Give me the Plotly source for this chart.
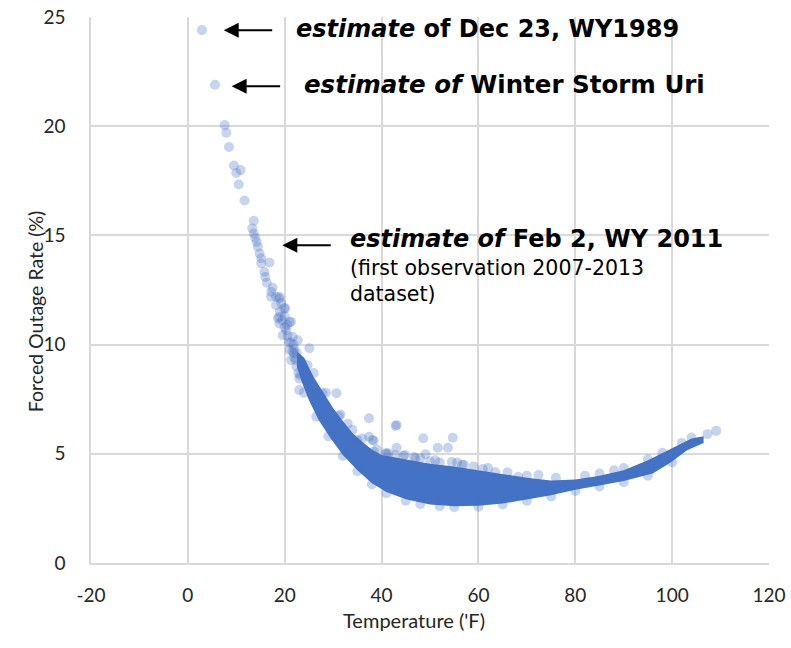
import plotly.graph_objects as go

# ---- data ----
# individual (visible) observations: temperature (F), forced outage rate (%)
pts_temp = [2.9, 5.6, 7.6, 7.95, 8.5, 9.5, 10.0, 10.9, 10.5, 11.7,
            13.6, 13.3, 13.6, 13.9, 14.2, 14.45, 14.8, 15.15, 16.85, 15.15,
            15.8, 16.0, 16.3, 17.2, 17.5, 17.2, 18.2, 18.9, 18.9, 18.2,
            20.1, 19.9, 18.6, 18.9, 18.9, 21.0, 21.3, 20.3, 19.6, 21.65,
            22.7, 25.1, 21.0, 21.3, 22.3, 23.7, 24.7, 23.0, 23.0, 24.7,
            26.45, 27.8, 19.3, 20.0, 20.5, 21.8, 22.0, 20.8, 22.5, 23.5,
            19.0, 19.5, 20.0, 20.6, 21.2, 21.6, 22.0, 22.4, 22.8, 23.2, 21.9,
            30.7, 31.2, 33.0, 37.4, 38.1, 35.0, 40.8, 37.4, 38.4, 42.9,
            43.1, 48.6, 54.7, 51.6, 53.7, 43.1, 38.4, 41.4, 42.8, 44.8,
            49.1, 46.7, 48.0, 51.1, 54.5, 55.6, 56.6, 59.0, 60.9, 63.5,
            68.2, 72.4, 107.3, 109.1,
            26.0, 28.5, 31.5, 34.0, 36.0, 39.0, 41.0, 44.5, 47.0, 50.0,
            52.0, 57.0, 62.0, 66.0, 70.0, 76.0, 82.0, 85.0, 88.0, 90.0,
            95.0, 98.0, 102.0, 104.0,
            24.0, 26.5, 29.0, 32.0, 35.0, 38.0, 41.0, 45.0, 48.0, 52.0,
            55.0, 60.0, 65.0, 70.0, 75.0, 80.0, 85.0, 90.0, 95.0, 100.0]
pts_rate = [24.4, 21.9, 20.05, 19.7, 19.05, 18.2, 17.86, 17.99, 17.33, 16.6,
            15.67, 15.32, 15.09, 14.89, 14.7, 14.48, 14.17, 13.95, 13.76, 13.72,
            13.33, 13.1, 12.83, 12.42, 12.6, 12.19, 12.19, 12.19, 12.11, 11.8,
            11.66, 11.66, 11.2, 11.27, 10.97, 11.04, 11.04, 10.66, 10.43, 10.36,
            10.2, 9.83, 9.75, 9.29, 9.29, 8.98, 9.06, 8.45, 7.92, 8.38,
            7.77, 7.77, 11.9, 11.3, 10.9, 10.0, 9.8, 10.1, 9.6, 9.2,
            11.5, 11.1, 10.8, 10.4, 10.1, 9.7, 9.4, 9.0, 8.7, 8.6, 9.6,
            7.77, 6.73, 6.38, 6.63, 5.63, 5.63, 5.02, 5.78, 5.6, 6.27,
            6.32, 5.71, 5.74, 5.28, 5.28, 5.28, 5.09, 5.02, 4.94, 4.95,
            4.98, 4.85, 4.8, 4.7, 4.62, 4.6, 4.5, 4.42, 4.3, 4.15,
            3.95, 4.03, 5.9, 6.05,
            8.7, 7.8, 6.8, 6.1, 5.7, 5.2, 5.0, 4.9, 4.8, 4.65,
            4.6, 4.5, 4.35, 4.15, 4.0, 3.9, 4.0, 4.1, 4.25, 4.35,
            4.75, 5.05, 5.5, 5.75,
            7.8, 6.7, 5.8, 4.9, 4.2, 3.6, 3.2, 2.85, 2.7, 2.6,
            2.55, 2.58, 2.68, 2.85, 3.05, 3.3, 3.5, 3.7, 4.0, 4.6]

# envelope of the dense mass of observations (upper edge, then lower edge back)
band_upper_temp = [22.5, 24, 26, 28, 30, 32, 34, 36, 38, 40, 43, 46, 50, 55, 60,
                   65, 70, 75, 80, 85, 90, 95, 100, 104, 106.5]
band_upper_rate = [9.7, 9.4, 8.5, 7.8, 7.1, 6.5, 5.95, 5.55, 5.2, 4.95, 4.82, 4.7, 4.55, 4.42, 4.25,
                   4.05, 3.9, 3.78, 3.82, 4.0, 4.25, 4.7, 5.25, 5.7, 5.8]
band_lower_temp = [106.5, 103, 100, 96, 90, 85, 80, 75, 70, 65, 60, 55, 50, 45,
                   41, 38, 35, 32, 29.5, 27, 25, 23.5, 22.5]
band_lower_rate = [5.5, 5.15, 4.65, 4.1, 3.75, 3.55, 3.35, 3.1, 2.9, 2.72, 2.62, 2.6, 2.68, 2.92,
                   3.25, 3.65, 4.25, 4.95, 5.7, 6.55, 7.45, 8.3, 9.0]

x_ticks = [-20, 0, 20, 40, 60, 80, 100, 120]
y_ticks = [0, 5, 10, 15, 20, 25]

BLUE = "#4472C4"
PT = "rgba(68,114,196,0.3)"
TXT = "#262626"

fig = go.Figure()
fig.add_trace(go.Scatter(
    x=band_upper_temp + band_lower_temp,
    y=band_upper_rate + band_lower_rate,
    mode="lines", fill="toself", fillcolor=BLUE,
    line=dict(width=0, color=BLUE), hoverinfo="skip", showlegend=False))
fig.add_trace(go.Scatter(
    x=pts_temp, y=pts_rate, mode="markers",
    marker=dict(size=10, color=PT, line=dict(width=0)),
    showlegend=False))

tick_font = dict(family="Lato, Open Sans, sans-serif", size=19, color=TXT)
grid = "#d9d9d9"
fig.update_xaxes(range=[-20, 120], tickvals=x_ticks, ticktext=[str(v) for v in x_ticks],
                 showgrid=True, gridcolor=grid, gridwidth=1.5, automargin=False,
                 zeroline=False, showline=True, linecolor=grid, linewidth=1.5,
                 ticks="outside", ticklen=14, tickcolor="rgba(0,0,0,0)",
                 tickfont=tick_font, fixedrange=True)
fig.update_yaxes(range=[0, 25], tickvals=y_ticks, ticktext=[str(v) for v in y_ticks],
                 showgrid=True, gridcolor=grid, gridwidth=1.5, automargin=False,
                 zeroline=False, showline=True, linecolor=grid, linewidth=1.5,
                 ticks="outside", ticklen=20, tickcolor="rgba(0,0,0,0)",
                 tickfont=tick_font, fixedrange=True)

ann_font = "DejaVu Sans, sans-serif"
annotations = [
    # axis titles
    dict(text="Forced Outage Rate (%)", xref="paper", yref="paper", x=-0.102, y=0.46,
         textangle=-90, showarrow=False, font=dict(family="Lato, sans-serif", size=19.5, color=TXT)),
    dict(text="Temperature ('F)", xref="paper", yref="paper", x=0.476, y=-0.13,
         showarrow=False, font=dict(family="Lato, sans-serif", size=20, color=TXT)),
    # arrows
    dict(x=7.4, y=24.39, ax=50, ay=0, text="", showarrow=True, arrowhead=2,
         arrowsize=1.5, arrowwidth=2, arrowcolor="black"),
    dict(x=9.04, y=21.83, ax=50, ay=0, text="", showarrow=True, arrowhead=2,
         arrowsize=1.5, arrowwidth=2, arrowcolor="black"),
    dict(x=19.5, y=14.55, ax=50, ay=0, text="", showarrow=True, arrowhead=2,
         arrowsize=1.5, arrowwidth=2, arrowcolor="black"),
    # labels
    dict(x=22.0, y=24.45, xanchor="left", yanchor="middle", showarrow=False,
         text="<b><i>estimate</i> of Dec 23, WY1989</b>",
         font=dict(family=ann_font, size=24, color="black")),
    dict(x=23.64, y=21.9, xanchor="left", yanchor="middle", showarrow=False,
         text="<b><i>estimate of</i> Winter Storm Uri</b>",
         font=dict(family=ann_font, size=24.5, color="black")),
    dict(x=33.1, y=14.85, xanchor="left", yanchor="middle", showarrow=False,
         text="<b><i>estimate of</i> Feb 2, WY 2011</b>",
         font=dict(family=ann_font, size=24, color="black")),
    dict(x=33.1, y=13.5, xanchor="left", yanchor="middle", showarrow=False,
         text="(first observation 2007-2013",
         font=dict(family=ann_font, size=20.5, color="black")),
    dict(x=33.1, y=12.3, xanchor="left", yanchor="middle", showarrow=False,
         text="dataset)",
         font=dict(family=ann_font, size=20.5, color="black")),
]
fig.update_layout(
    width=791, height=648,
    margin=dict(l=91, r=22, t=17, b=85),
    paper_bgcolor="white", plot_bgcolor="white",
    annotations=annotations, showlegend=False,
)
fig.write_html("out.html")
